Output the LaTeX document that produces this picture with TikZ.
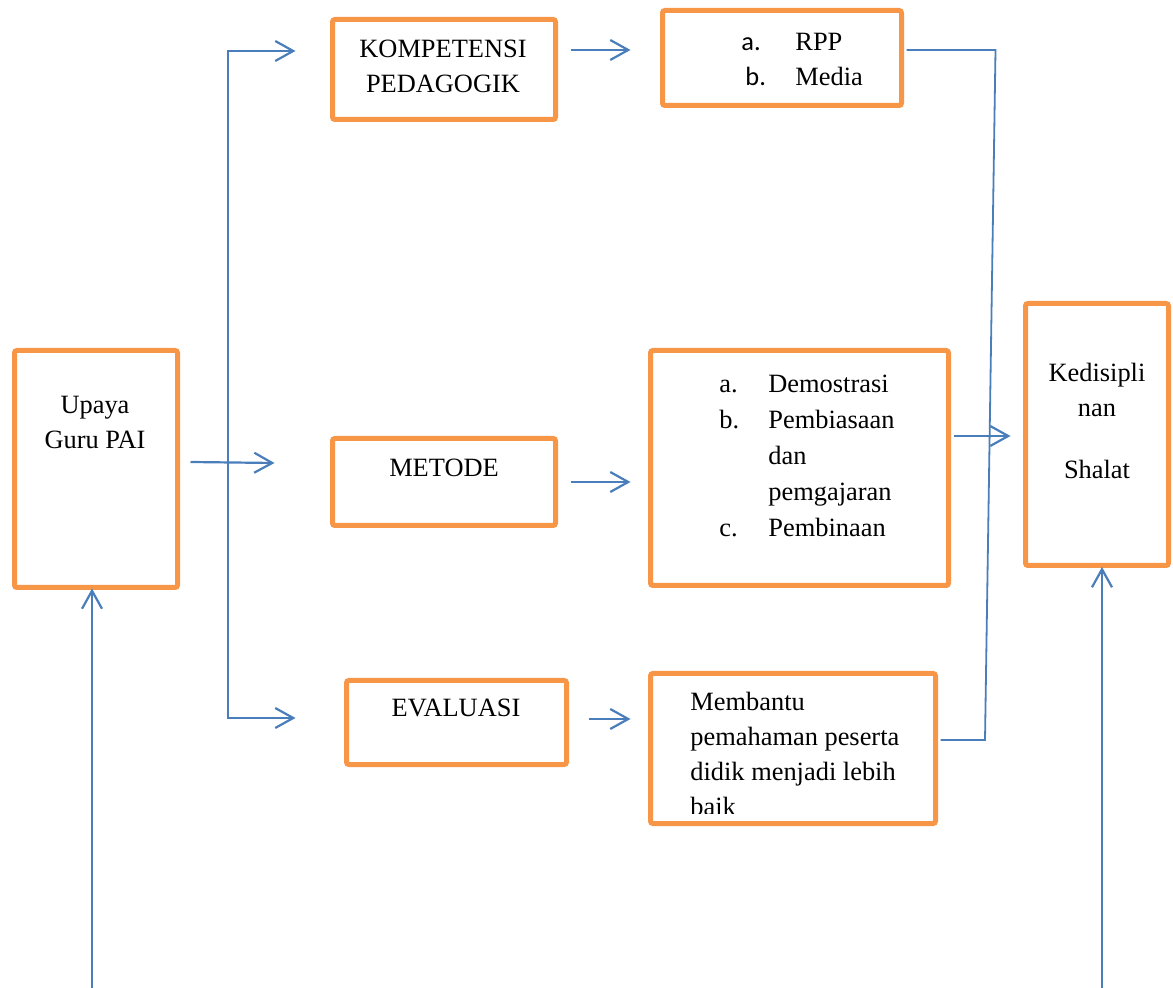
\documentclass[tikz,border=0pt]{standalone}
\usepackage{fontspec}
\setmainfont{Liberation Serif}
\newfontfamily\calibrifont{Carlito}
\usetikzlibrary{arrows.meta,positioning,calc}
\definecolor{boxorange}{HTML}{F79646}
\definecolor{linkblue}{HTML}{4A7EBB}
\tikzset{
  blk/.style={draw=boxorange, line width=2.5pt, rounded corners=1.2pt, inner sep=0pt},
  txt/.style={font=\fontsize{13.2}{17.5}\selectfont, align=center, inner sep=0pt},
  sig/.style={-{Straight Barb[length=9pt,width=10pt]}, draw=linkblue, line width=1.1pt},
  lnk/.style={draw=linkblue, line width=0.9pt},
}
\newcommand{\itm}[2][24.5pt]{\makebox[#1][l]{#2}}

\begin{document}
\begin{tikzpicture}[x=0.5pt,y=-0.5pt]
    \useasboundingbox (0,0) rectangle (1173,988);
    % boxes
    \node[blk,minimum width=81.5pt,minimum height=118.5pt] (upaya) at (96,469) {};
    \node[blk,minimum width=111.5pt,minimum height=50pt] (komp) at (444,69.5) {};
    \node[blk,minimum width=119.5pt,minimum height=47.5pt] (rpp) at (782,58) {};
    \node[blk,minimum width=111.5pt,minimum height=43.5pt] (metode) at (444,482) {};
    \node[blk,minimum width=149pt,minimum height=117.5pt] (cara) at (799.5,468) {};
    \node[blk,minimum width=110pt,minimum height=42pt] (eval) at (456.5,722.5) {};
    \node[blk,minimum width=142.5pt,minimum height=75pt] (bantu) at (793,748.5) {};
    \node[blk,minimum width=71.5pt,minimum height=131pt] (disiplin) at (1097,434.5) {};
    % texts
    \node[txt] (upayaT) at (95,422.5) {Upaya\\Guru PAI};
    \node[txt] (kompT) at (443,66.5) {KOMPETENSI\\PEDAGOGIK};
    \node[txt,align=left,anchor=west] (rppT) at (741,59)
      {\itm[27pt]{\calibrifont a.}RPP\\\hspace{2pt}\itm[25pt]{\calibrifont b.}Media};
    \node[txt] (metodeT) at (444,468) {METODE};
    \node[txt,font=\fontsize{13.2}{18}\selectfont,align=left,anchor=west] (caraT) at (719,456)
      {\itm{a.}Demostrasi\\\itm{b.}Pembiasaan\\\itm{}dan\\\itm{}pemgajaran\\\itm{c.}Pembinaan};
    \node[txt] (evalT) at (456,707.5) {EVALUASI};
    \begin{scope}
      \clip (650,673) rectangle (936,813);
      \node[txt,align=left,anchor=west] (bantuT) at (690,754)
        {Membantu\\pemahaman peserta\\didik menjadi lebih\\baik};
    \end{scope}
    \node[txt] (disiplinT) at (1097,421) {Kedisipli\\nan\\[13.5pt]Shalat};
    % connectors
    \coordinate (fork) at (228,384);
    \draw[sig] (fork) |- ([shift={(-34.5,-18.5)}]komp.west);
    \draw[sig] (fork) |- ([shift={(-48.5,-4.5)}]eval.west);
    \draw[sig] ([shift={(10.5,-7)}]upaya.east) -- ([shift={(-55.5,-19)}]metode.west);
    \draw[sig] ([shift={(12.5,-19.5)}]komp.east) -- ([shift={(-29.5,-8)}]rpp.west);
    \draw[sig] ([shift={(12.5,0)}]metode.east) -- ([shift={(-17.5,14)}]cara.west);
    \draw[sig] ([shift={(19.5,-3.5)}]eval.east) -- ([shift={(-17.5,-29.5)}]bantu.west);
    \draw[sig] ([shift={(2.5,-32)}]cara.east) -- ([shift={(-12.5,1.5)}]disiplin.west);
    \coordinate (elbow) at (985,740);
    \draw[lnk] ([shift={(2.5,-8)}]rpp.east) -- ++(89,0) -- (elbow)
      -- ([shift={(2.5,-8.5)}]bantu.east);
    \coordinate (in1) at (92,988);
    \coordinate (in2) at (1102,988);
    \draw[sig] (in1) -- ([shift={(-4,-1.5)}]upaya.south);
    \draw[sig] (in2) -- ([shift={(5,-1)}]disiplin.south);
\end{tikzpicture}
\end{document}
